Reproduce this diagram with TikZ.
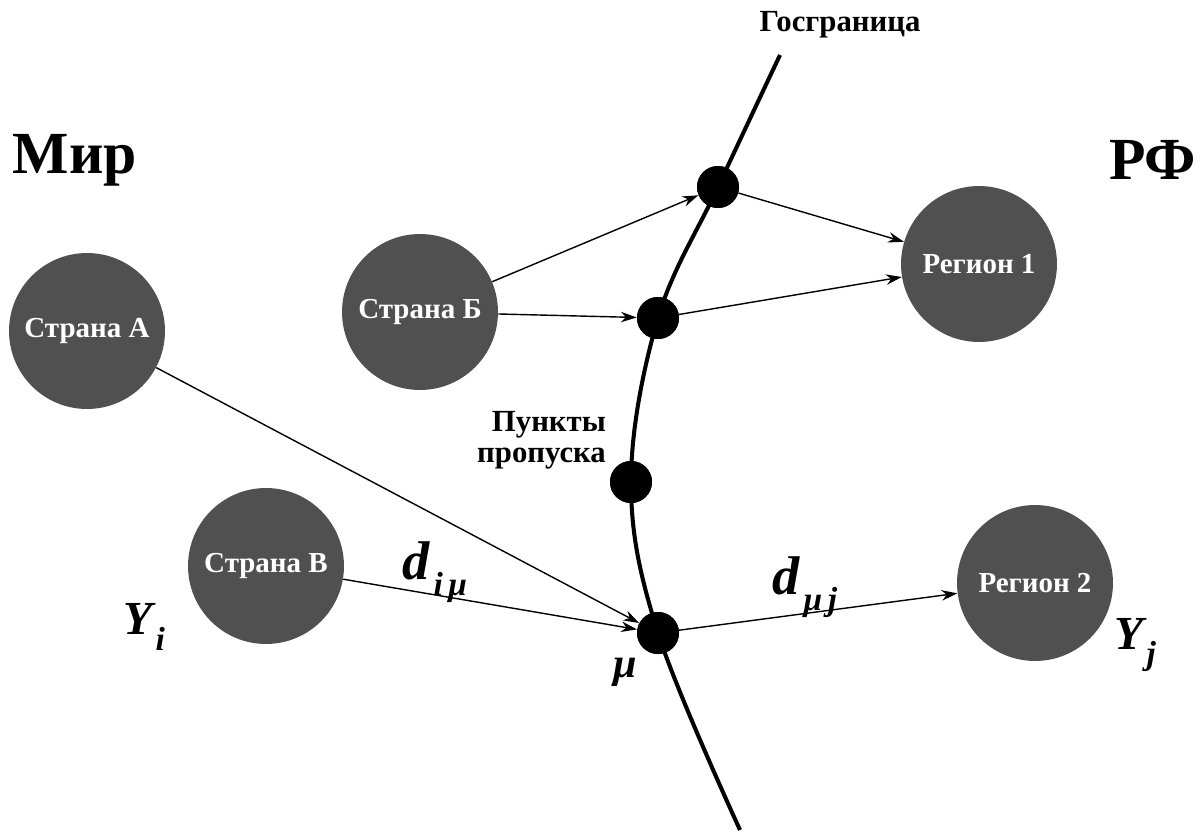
\documentclass[tikz,border=0pt]{standalone}
\usepackage{fontspec}
\setmainfont{Liberation Serif}
\usetikzlibrary{arrows.meta,positioning}
\definecolor{cgray}{HTML}{505050}
\newcommand\fs[1]{\fontsize{#1}{#1}\selectfont}
\newcommand\idx[3]{{\fs{#1}\bfseries\itshape #2}\kern2pt\raisebox{-9pt}{\fs{19}\bfseries\itshape #3}}

\begin{document}
\begin{tikzpicture}[x=0.02cm,y=-0.02cm,
  land/.style={circle, fill=cgray, minimum size=3.12cm, inner sep=0pt,
               text=white, font=\fs{16.5}\bfseries},
  post/.style={circle, fill=black, minimum size=0.84cm, inner sep=0pt},
  flow/.style={-{Stealth[length=9pt,width=6pt]}, line width=0.8pt},
  lab/.style={font=\fs{17.5}\bfseries}]
  \useasboundingbox (0,0) rectangle (1200,832);

  % border and crossing points
  \coordinate (top) at (780,55);
  \coordinate (bot) at (740,830);
  \node[post] (p1) at (718,187) {};
  \node[post] (p2) at (658,318) {};
  \node[post] (p3) at (631,482) {};
  \node[post] (mu) at (658,633) {};
  \draw[line width=2.3pt] plot[smooth, tension=0.6] coordinates
    {(top) (p1.center) (p2.center) (p3.center) (mu.center) (bot)};
  \foreach \p in {p1,p2,p3,mu} \fill (\p) circle (21);

  % countries and regions
  \node[land] (A)  at (87,331)   {Страна А};
  \node[land] (B)  at (420,312)  {Страна Б};
  \node[land] (V)  at (266,566)  {Страна В};
  \node[land] (R1) at (979,264)  {Регион 1};
  \node[land] (R2) at (1035,583) {Регион 2};

  % flows
  \draw[flow] (B) -- (p1);
  \draw[flow] (B) -- (p2);
  \draw[flow] (p1) -- (R1);
  \draw[flow] (p2) -- (R1);
  \draw[flow] (A) -- (mu);
  \draw[flow] (V) -- (mu);
  \draw[flow] (mu) -- (R2);

  % labels
  \node[font=\fs{34}\bfseries] (mir) at (75,160) {Мир};
  \node[font=\fs{34}\bfseries, anchor=east] (rf) at (1202,160) {РФ};
  \node[lab] (gos) at (840,25) {Госграница};
  \node[lab, align=right, anchor=east] (pp) at (612,440) {Пункты\\пропуска};
  \node (dimu) at (435,572) {\idx{31}{d}{i\,μ}};
  \node (dmuj) at (805,587) {\idx{31}{d}{μ\,j}};
  \node[font=\fs{24}\bfseries\itshape] (mulab) at (625,672) {μ};
  \node (yi) at (144,627) {\idx{27}{Y}{i}};
  \node (yj) at (1135,645) {\idx{27}{Y}{j}};
\end{tikzpicture}
\end{document}
